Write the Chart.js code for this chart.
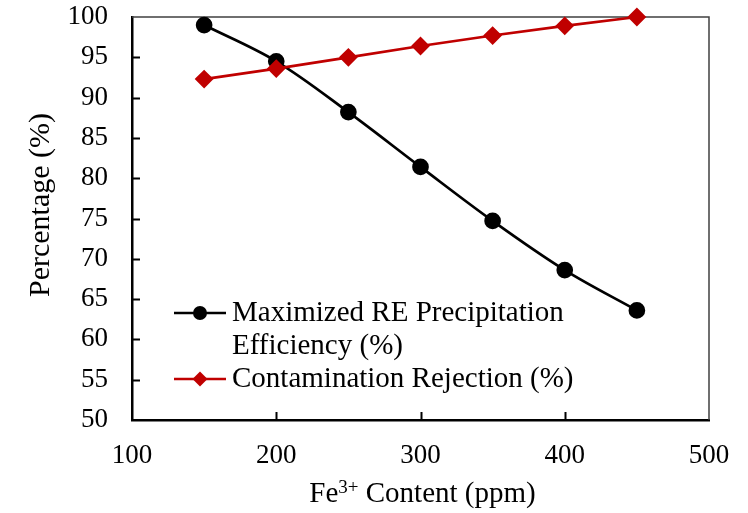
<!DOCTYPE html>
<html>
<head>
<meta charset="utf-8">
<script src="https://cdn.jsdelivr.net/npm/chart.js@4.4.1/dist/chart.umd.min.js"></script>
<style>
  html, body { margin: 0; padding: 0; background: #fff; }
  #wrap { position: relative; width: 748px; height: 513px; }
</style>
</head>
<body>
<div id="wrap"><canvas id="fe-chart" width="748" height="513"></canvas></div>
<script>
// Fe3+ content (ppm) vs. precipitation efficiency and contamination rejection
const feContent = [150, 200, 250, 300, 350, 400, 450];
const precipEfficiency = [99.0, 94.5, 88.2, 81.4, 74.7, 68.6, 63.6];
const contamRejection = [92.3, 93.6, 95.0, 96.4, 97.7, 98.9, 100.0];
const xTicks = [100, 200, 300, 400, 500];
const yTicks = [50, 55, 60, 65, 70, 75, 80, 85, 90, 95, 100];
const seriesNames = [["Maximized RE Precipitation", "Efficiency (%)"], ["Contamination Rejection (%)"]];

const SERIF = '"Liberation Serif", "Times New Roman", serif';
const BLACK = '#000000';
const RED = '#C00000';

function toPoints(xs, ys) {
  return xs.map((x, i) => ({ x: x, y: ys[i] }));
}

// plot box (top/right border) and inward tick marks
const framePlugin = {
  id: 'frame',
  beforeDatasetsDraw(chart) {
    const { ctx, chartArea: a, scales } = chart;
    ctx.save();
    ctx.strokeStyle = '#404040';
    ctx.lineWidth = 1.5;
    ctx.beginPath();
    ctx.moveTo(a.left, a.top);
    ctx.lineTo(a.right, a.top);
    ctx.lineTo(a.right, a.bottom);
    ctx.stroke();

    ctx.strokeStyle = BLACK;
    ctx.lineWidth = 2;
    ctx.beginPath();
    scales.y.ticks.forEach(t => {
      if (t.value === scales.y.min || t.value === scales.y.max) return;
      const py = Math.round(scales.y.getPixelForValue(t.value)) + 0.5;
      ctx.moveTo(a.left, py);
      ctx.lineTo(a.left + 8, py);
    });
    scales.x.ticks.forEach(t => {
      if (t.value === scales.x.min || t.value === scales.x.max) return;
      const px = Math.round(scales.x.getPixelForValue(t.value)) + 0.5;
      ctx.moveTo(px, a.bottom);
      ctx.lineTo(px, a.bottom - 8);
    });
    ctx.stroke();
    ctx.restore();
  }
};

// legend inside the plot, axis titles (x title has a superscript)
const labelsPlugin = {
  id: 'labels',
  afterDraw(chart) {
    const { ctx, chartArea: a } = chart;
    ctx.save();
    ctx.fillStyle = BLACK;
    ctx.textBaseline = 'alphabetic';

    // legend
    const lx0 = a.left + 42, lx1 = a.left + 94, tx = a.left + 100;
    const rows = [
      { color: BLACK, shape: 'circle', y: 313, text: seriesNames[0], base: 321 },
      { color: RED, shape: 'diamond', y: 379, text: seriesNames[1], base: 387 }
    ];
    ctx.font = '29px ' + SERIF;
    rows.forEach(r => {
      ctx.strokeStyle = r.color;
      ctx.fillStyle = r.color;
      ctx.lineWidth = 2.5;
      ctx.beginPath();
      ctx.moveTo(lx0, r.y);
      ctx.lineTo(lx1, r.y);
      ctx.stroke();
      const cx = (lx0 + lx1) / 2;
      ctx.beginPath();
      if (r.shape === 'circle') {
        ctx.arc(cx, r.y, 7, 0, Math.PI * 2);
      } else {
        ctx.moveTo(cx - 7.5, r.y);
        ctx.lineTo(cx, r.y - 7.5);
        ctx.lineTo(cx + 7.5, r.y);
        ctx.lineTo(cx, r.y + 7.5);
        ctx.closePath();
      }
      ctx.fill();
      ctx.fillStyle = BLACK;
      ctx.textAlign = 'left';
      r.text.forEach((line, i) => ctx.fillText(line, tx, r.base + i * 33));
    });

    // x axis title: Fe3+ Content (ppm)
    const big = '29px ' + SERIF, small = '19px ' + SERIF;
    ctx.font = big;
    const w1 = ctx.measureText('Fe').width;
    const w3 = ctx.measureText(' Content (ppm)').width;
    ctx.font = small;
    const w2 = ctx.measureText('3+').width;
    let x = (a.left + a.right) / 2 + 2 - (w1 + w2 + w3) / 2;
    const by = 502;
    ctx.textAlign = 'left';
    ctx.font = big;
    ctx.fillText('Fe', x, by);
    x += w1;
    ctx.font = small;
    ctx.fillText('3+', x, by - 9);
    x += w2;
    ctx.font = big;
    ctx.fillText(' Content (ppm)', x, by);

    // y axis title
    ctx.translate(41, 205);
    ctx.rotate(-Math.PI / 2);
    ctx.font = '30px ' + SERIF;
    ctx.textAlign = 'center';
    ctx.textBaseline = 'middle';
    ctx.fillText('Percentage (%)', 0, 0);
    ctx.restore();
  }
};

new Chart(document.getElementById('fe-chart'), {
  type: 'line',
  data: {
    datasets: [{
      label: seriesNames[0].join(' '),
      data: toPoints(feContent, precipEfficiency),
      borderColor: BLACK,
      backgroundColor: BLACK,
      borderWidth: 2.7,
      pointStyle: 'circle',
      pointRadius: 7,
      pointHoverRadius: 7,
      tension: 0.35,
      clip: false,
      order: 2
    }, {
      label: seriesNames[1].join(' '),
      data: toPoints(feContent, contamRejection),
      borderColor: RED,
      backgroundColor: RED,
      borderWidth: 2.7,
      pointStyle: 'rectRot',
      pointRadius: 7.5,
      pointHoverRadius: 7.5,
      tension: 0,
      clip: false,
      order: 1
    }]
  },
  options: {
    responsive: false,
    animation: false,
    layout: { padding: { top: 17, right: 39, left: 0, bottom: 0 } },
    plugins: {
      legend: { display: false },
      tooltip: { enabled: false }
    },
    scales: {
      x: {
        type: 'linear',
        min: 100,
        max: 500,
        afterBuildTicks: s => { s.ticks = xTicks.map(v => ({ value: v })); },
        afterFit: s => { s.height = 93; s.paddingLeft = 0; s.paddingRight = 0; },
        grid: { display: false, drawTicks: false },
        border: { display: true, color: BLACK, width: 2.5 },
        ticks: { color: BLACK, padding: 20, font: { family: SERIF, size: 27 } }
      },
      y: {
        min: 50,
        max: 100,
        afterBuildTicks: s => { s.ticks = yTicks.map(v => ({ value: v })); },
        afterFit: s => { s.width = 132; s.paddingTop = 0; s.paddingBottom = 0; },
        grid: { display: false, drawTicks: false },
        border: { display: true, color: BLACK, width: 2.5 },
        ticks: { color: BLACK, padding: 24, font: { family: SERIF, size: 27 } }
      }
    }
  },
  plugins: [framePlugin, labelsPlugin]
});
</script>
</body>
</html>
